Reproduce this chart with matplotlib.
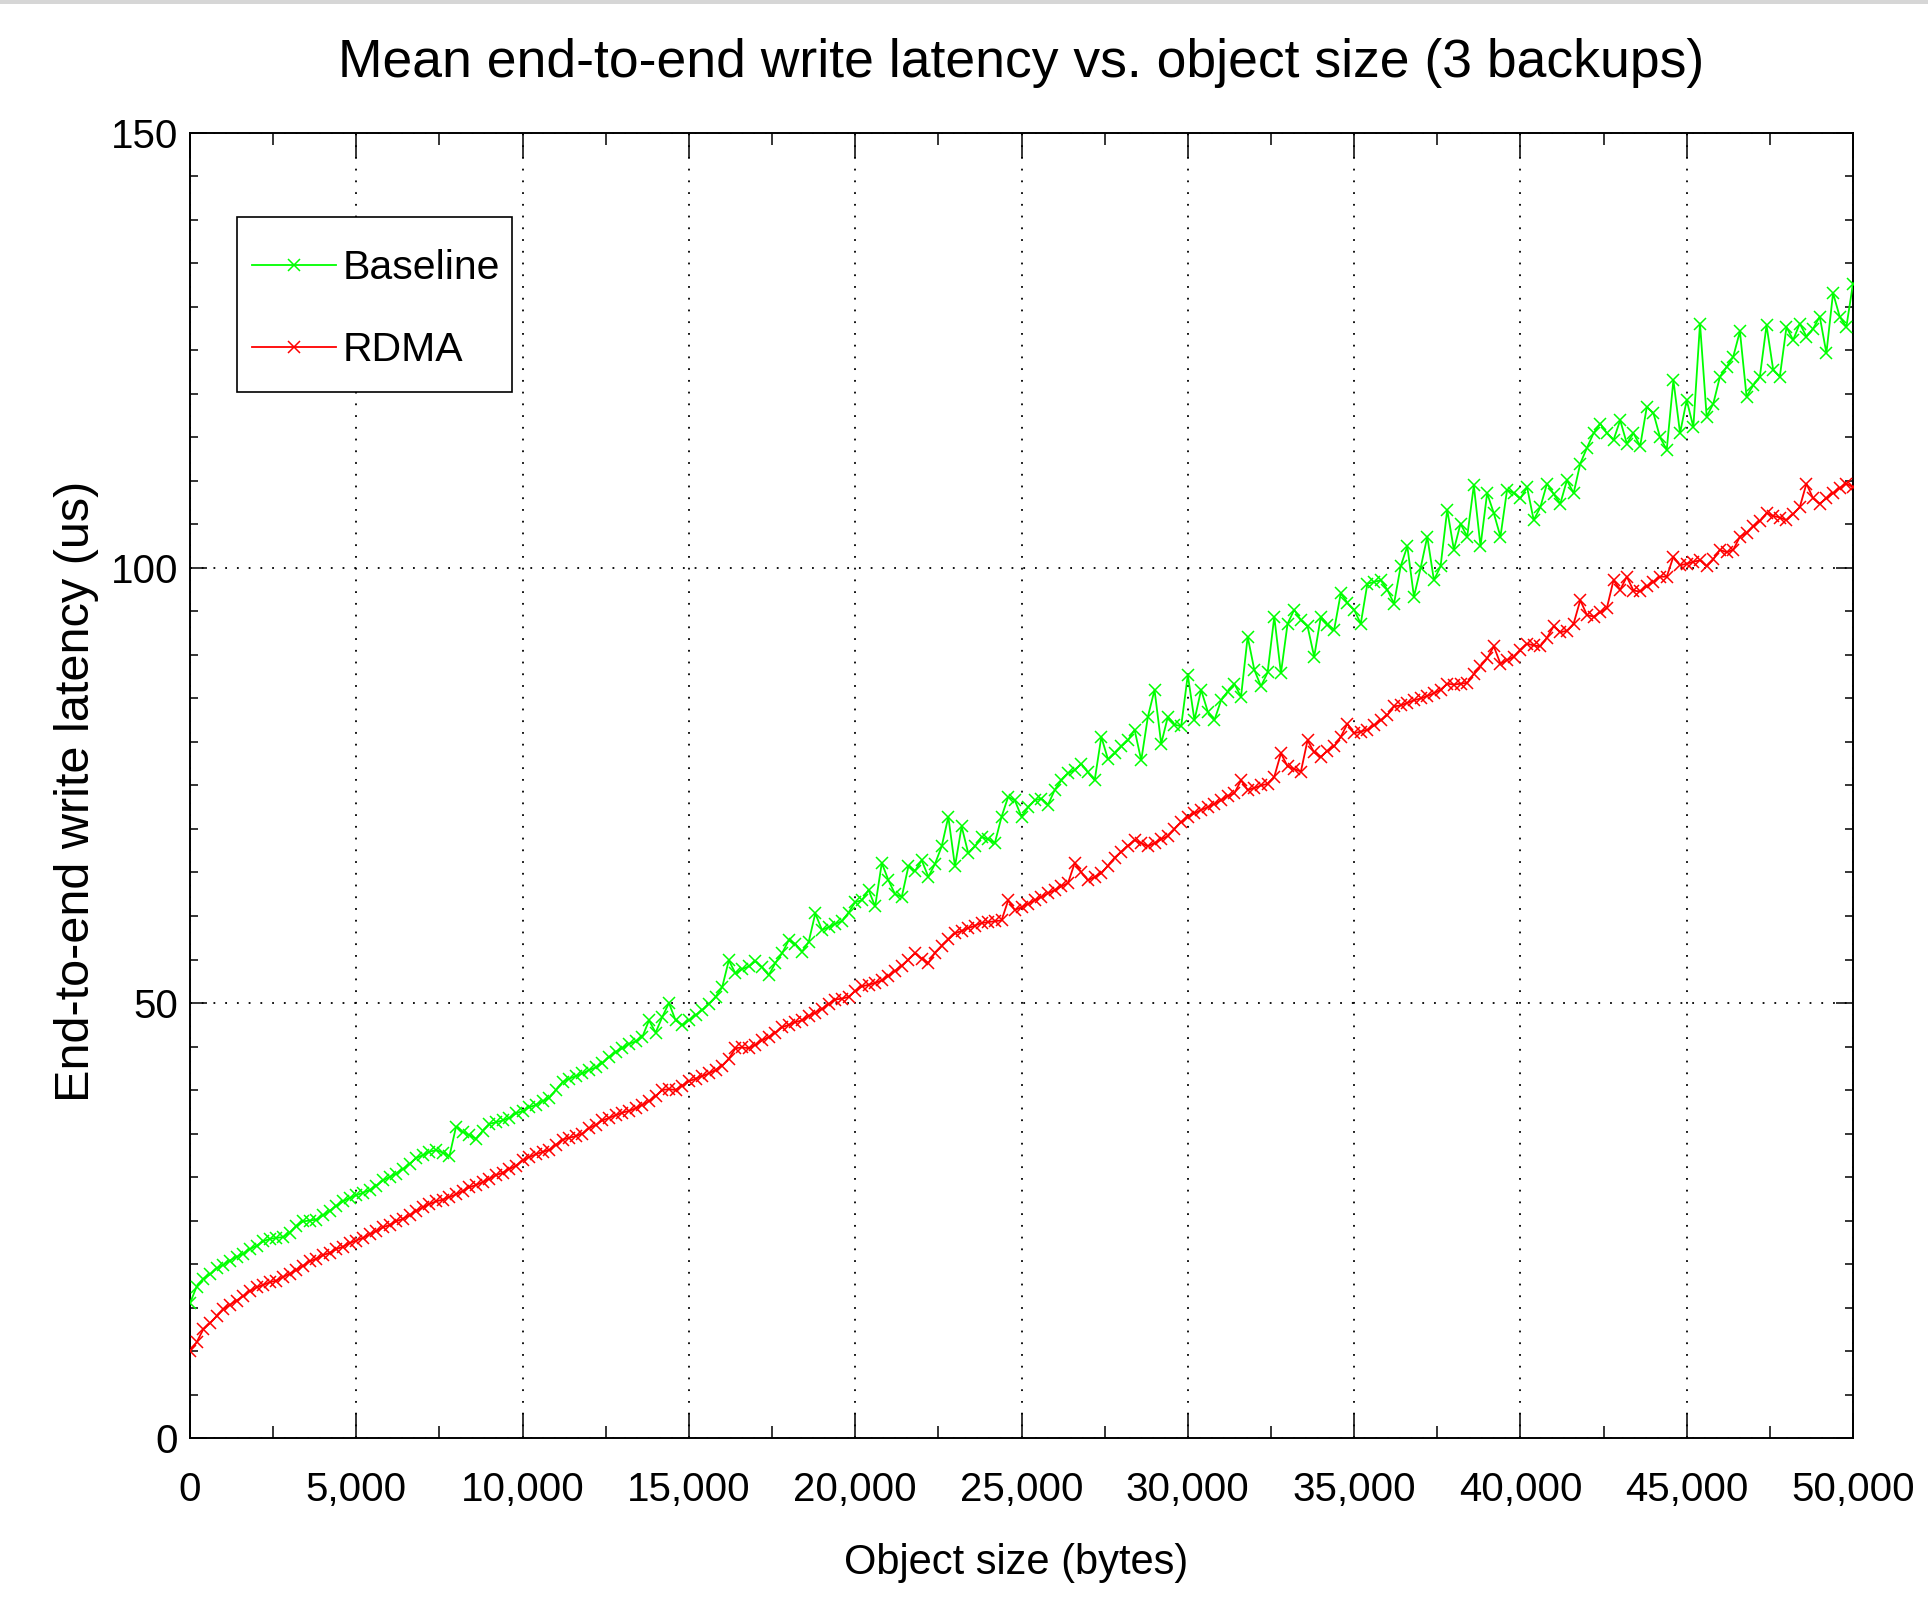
"""Latence d'écriture moyenne de bout en bout selon la taille d'objet (3 backups)."""

import matplotlib

matplotlib.use("Agg")
import matplotlib.pyplot as plt
import numpy as np
from matplotlib.patches import Rectangle
from matplotlib.ticker import MultipleLocator, StrMethodFormatter

W, H, DPI = 1928, 1598, 100

# pas de police "Narrow" installée : Liberation Sans, taille réglée sur la largeur du texte
FONT = ["Liberation Sans", "DejaVu Sans"]

# taille d'objet (octets), un point tous les 200 octets
object_sizes = np.arange(0, 50001, 200)

baseline_us = [
    15.5, 17.4, 18.3, 18.8, 19.5, 19.9, 20.4, 20.8, 21.2, 21.7,
    22.1, 22.6, 22.9, 23.0, 23.1, 23.6, 24.4, 24.9, 25.0, 25.1,
    25.6, 26.1, 26.7, 27.2, 27.6, 27.9, 28.2, 28.5, 29.0, 29.6,
    30.0, 30.4, 30.9, 31.5, 32.2, 32.5, 32.9, 33.1, 32.8, 32.4,
    35.8, 35.2, 34.8, 34.4, 35.3, 36.1, 36.3, 36.5, 36.8, 37.3,
    37.6, 38.0, 38.3, 38.7, 39.1, 40.0, 40.9, 41.3, 41.6, 41.9,
    42.3, 42.6, 43.1, 43.8, 44.4, 44.8, 45.3, 45.6, 46.1, 48.0,
    46.6, 48.4, 50.0, 48.0, 47.5, 48.0, 48.6, 49.2, 49.9, 50.7,
    51.8, 54.9, 53.4, 53.9, 54.2, 54.8, 54.1, 53.2, 54.6, 55.7,
    57.2, 56.8, 55.9, 57.0, 60.3, 58.4, 58.7, 59.1, 59.4, 60.4,
    61.6, 61.8, 63.0, 61.1, 66.1, 64.1, 62.5, 62.2, 65.7, 65.2,
    66.4, 64.5, 66.0, 68.0, 71.4, 65.7, 70.3, 67.2, 68.0, 69.1,
    68.8, 68.4, 71.4, 73.7, 73.3, 71.4, 72.5, 73.3, 73.5, 72.8,
    74.5, 75.6, 76.4, 76.8, 77.5, 76.5, 75.6, 80.6, 78.0, 78.7,
    79.5, 80.2, 81.4, 77.9, 82.9, 86.0, 79.8, 82.9, 82.0, 81.8,
    87.7, 82.5, 86.0, 83.5, 82.5, 84.8, 85.8, 86.7, 85.2, 92.1,
    88.3, 86.4, 88.0, 94.4, 87.9, 93.6, 95.2, 94.0, 93.3, 89.8,
    94.4, 93.5, 92.9, 97.1, 96.0, 95.2, 93.6, 98.2, 98.4, 98.6,
    97.5, 95.9, 100.2, 102.5, 96.7, 100.0, 103.6, 98.6, 100.2, 106.7,
    102.1, 105.1, 103.6, 109.5, 102.5, 108.6, 106.3, 103.6, 109.0, 108.6,
    108.0, 109.3, 105.5, 107.0, 109.7, 108.5, 107.4, 110.1, 108.6, 112.0,
    113.8, 115.5, 116.6, 115.5, 114.7, 117.0, 114.3, 115.5, 114.0, 118.5,
    117.8, 115.0, 113.6, 121.6, 115.5, 119.3, 116.2, 128.1, 117.4, 118.9,
    122.0, 123.1, 124.3, 127.2, 119.7, 121.0, 122.0, 127.9, 122.8, 122.0,
    127.7, 126.2, 128.1, 126.6, 127.5, 128.9, 124.7, 131.6, 128.9, 127.7,
    132.7,
]

rdma_us = [
    10.0, 11.0, 12.5, 13.2, 14.0, 14.8, 15.3, 15.8, 16.3, 16.9,
    17.3, 17.6, 17.9, 18.1, 18.5, 18.9, 19.3, 19.8, 20.3, 20.6,
    21.0, 21.3, 21.7, 22.0, 22.4, 22.7, 23.0, 23.4, 23.8, 24.2,
    24.5, 24.9, 25.2, 25.6, 26.1, 26.5, 26.9, 27.2, 27.4, 27.7,
    28.0, 28.4, 28.8, 29.1, 29.4, 29.8, 30.2, 30.5, 30.9, 31.3,
    31.9, 32.3, 32.6, 32.9, 33.1, 33.7, 34.3, 34.5, 34.7, 35.0,
    35.6, 36.0, 36.5, 36.8, 37.1, 37.4, 37.6, 37.9, 38.3, 38.7,
    39.3, 40.0, 40.1, 40.0, 40.5, 41.0, 41.3, 41.6, 41.9, 42.3,
    42.8, 43.6, 44.8, 44.9, 44.8, 45.2, 45.7, 46.1, 46.6, 47.2,
    47.5, 47.8, 48.0, 48.5, 48.9, 49.3, 49.9, 50.4, 50.5, 50.7,
    51.4, 51.9, 52.1, 52.3, 52.6, 53.1, 53.7, 54.3, 55.0, 55.7,
    55.1, 54.6, 55.8, 56.6, 57.3, 58.0, 58.3, 58.6, 58.9, 59.2,
    59.3, 59.4, 59.5, 61.8, 60.7, 61.0, 61.4, 61.8, 62.2, 62.6,
    63.0, 63.4, 63.8, 66.1, 65.0, 64.1, 64.5, 64.9, 65.8, 66.7,
    67.4, 68.1, 68.7, 68.4, 68.0, 68.4, 68.8, 69.2, 70.0, 70.8,
    71.4, 71.8, 72.2, 72.5, 72.9, 73.3, 73.8, 74.1, 75.6, 74.5,
    74.7, 75.0, 75.2, 76.0, 78.7, 77.2, 76.9, 76.6, 80.2, 78.8,
    78.3, 79.0, 79.5, 80.6, 82.1, 81.0, 81.2, 81.4, 81.9, 82.5,
    83.1, 84.1, 84.2, 84.5, 84.8, 85.0, 85.3, 85.6, 86.0, 86.7,
    86.6, 86.7, 86.8, 87.8, 88.7, 89.6, 91.0, 89.0, 89.4, 89.8,
    90.6, 91.3, 91.1, 91.0, 92.0, 93.3, 92.6, 92.8, 93.6, 96.3,
    94.6, 94.4, 94.9, 95.4, 98.6, 97.5, 99.0, 97.4, 97.3, 97.9,
    98.4, 99.0, 99.0, 101.3, 100.3, 100.5, 100.7, 100.9, 100.2, 101.0,
    102.1, 101.8, 102.1, 103.6, 104.0, 104.8, 105.4, 106.3, 106.0, 105.8,
    105.5, 106.2, 107.0, 109.7, 108.0, 107.4, 108.0, 108.6, 109.2, 109.7,
    109.3,
]

series_names = ["Baseline", "RDMA"]
series_colors = ["#00ff00", "#ff0000"]


def px_x(px):
    return px / W


def px_y(py):
    return 1 - py / H


def main():
    fig = plt.figure(figsize=(W / DPI, H / DPI), dpi=DPI)
    fig.patch.set_facecolor("white")
    # bande grise en haut de la capture
    fig.add_artist(Rectangle((0, px_y(4)), 1, 4 / H, transform=fig.transFigure,
                             facecolor="#d6d6d6", edgecolor="none"))

    ax = fig.add_axes([px_x(190), px_y(1438), px_x(1853) - px_x(190), px_y(133) - px_y(1438)])

    for name, values, color in zip(series_names, [baseline_us, rdma_us], series_colors):
        ax.plot(object_sizes, values, color=color, lw=1.3, marker="x",
                markersize=9, markeredgewidth=1.1, label=name, zorder=3)

    ax.set_xlim(0, 50000)
    ax.set_ylim(0, 150)
    ax.xaxis.set_major_locator(MultipleLocator(5000))
    ax.xaxis.set_minor_locator(MultipleLocator(2500))
    ax.yaxis.set_major_locator(MultipleLocator(50))
    ax.yaxis.set_minor_locator(MultipleLocator(5))
    ax.xaxis.set_major_formatter(StrMethodFormatter("{x:,.0f}"))

    ax.grid(True, which="major", color="black", lw=1.3, linestyle=(0, (1, 5.5)), zorder=1)
    ax.set_axisbelow(True)

    ax.tick_params(axis="both", which="both", direction="in", top=True, right=True,
                   width=1.1, color="black")
    ax.tick_params(axis="x", which="major", length=18, pad=24)
    ax.tick_params(axis="x", which="minor", length=8.6)
    ax.tick_params(axis="y", which="major", length=12, pad=8.5)
    ax.tick_params(axis="y", which="minor", length=5.8)
    for lab in ax.get_xticklabels() + ax.get_yticklabels():
        lab.set_family(FONT)
        lab.set_fontsize(29)
    for spine in ax.spines.values():
        spine.set_linewidth(1.4)

    ax.set_title("Mean end-to-end write latency vs. object size (3 backups)",
                 family=FONT, fontsize=38.5, pad=40)

    fig.text(px_x(1016), px_y(1574), "Object size (bytes)", family=FONT,
             fontsize=30, ha="center", va="baseline")
    fig.text(px_x(77), px_y(791), "End-to-end write latency (us)", family=FONT,
             fontsize=35, rotation=90, ha="center", va="center")

    # cadre de légende dessiné à part : plus de marge verticale qu'horizontale
    ax.add_patch(Rectangle((px_x(237), px_y(392)), px_x(512) - px_x(237), px_y(217) - px_y(392),
                           transform=fig.transFigure, facecolor="white", edgecolor="black",
                           lw=1.2, zorder=4.5, clip_on=False))
    ax.legend(loc="upper left", bbox_to_anchor=(px_x(252), px_y(249)),
              bbox_transform=fig.transFigure, borderaxespad=0, numpoints=1,
              prop={"family": FONT, "size": 29.5}, handlelength=2.05,
              handletextpad=0.17, borderpad=0, labelspacing=1.07, frameon=False)

    fig.savefig("out.png", dpi=DPI)
    plt.close(fig)


if __name__ == "__main__":
    main()
